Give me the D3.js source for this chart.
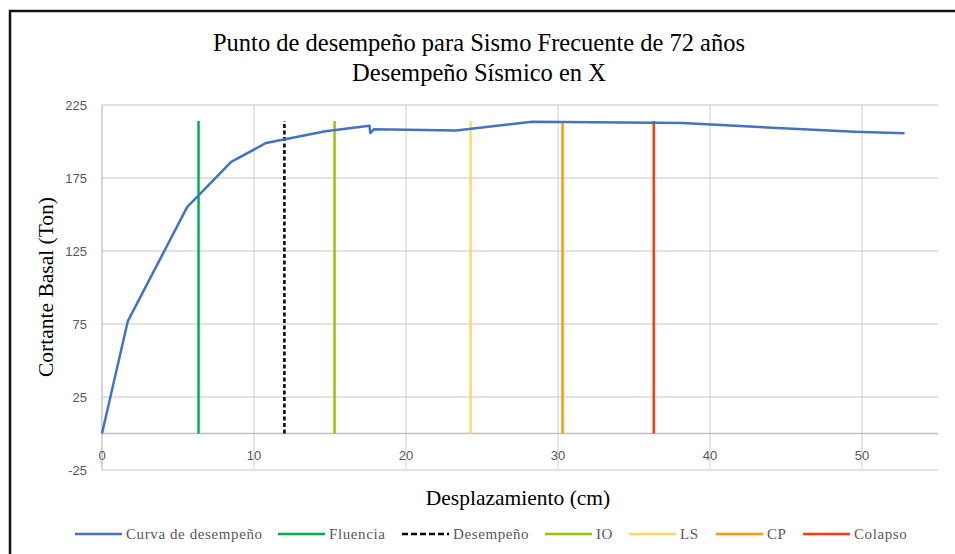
<!DOCTYPE html>
<html>
<head>
<meta charset="utf-8">
<script src="https://cdn.jsdelivr.net/npm/d3@7"></script>
<style>
  html, body { margin: 0; padding: 0; background: #fff; }
  svg { display: block; }
</style>
</head>
<body>
<svg id="chart" width="955" height="554"></svg>
<script>
// Pushover curve (displacement in cm, base shear in Ton)
const curveX = [0, 1.7, 5.6, 8.5, 10.8, 14.7, 17.6, 17.65, 17.9, 23.3, 28.3, 38.2, 49.5, 52.8];
const curveY = [0, 77, 155, 186, 199, 207, 210.8, 205.8, 208.4, 207.6, 213.5, 212.6, 206.6, 205.6];

// Performance levels drawn as vertical markers
const levelNames = ["Fluencia", "Desempeño", "IO", "LS", "CP", "Colapso"];
const levelX = [6.35, 12.0, 15.3, 24.25, 30.3, 36.3];
const levelTop = 214;
const levelColors = ["#00B050", "#000000", "#92C800", "#FFD966", "#FF9900", "#FF3B0F"];

const xTicks = [0, 10, 20, 30, 40, 50];
const yTicks = [-25, 25, 75, 125, 175, 225];

const titleLines = ["Punto de desempeño para Sismo Frecuente de 72 años", "Desempeño Sísmico en X"];

const svg = d3.select("#chart");
const serif = "'Liberation Serif', 'Times New Roman', serif";
const sans = "'Liberation Sans', Arial, sans-serif";

// Outer chart frame
svg.append("rect")
  .attr("x", 10).attr("y", 11).attr("width", 1000).attr("height", 600)
  .attr("fill", "none").attr("stroke", "#111").attr("stroke-width", 2.5);

const x = d3.scaleLinear().domain([0, 55]).range([102, 938]);
const y = d3.scaleLinear().domain([-25, 225]).range([470, 105]);

// Gridlines
const grid = svg.append("g");
grid.selectAll("line.h").data(yTicks).join("line")
  .attr("x1", x(0)).attr("x2", x(55))
  .attr("y1", d => y(d)).attr("y2", d => y(d))
  .attr("stroke", "#D9D9D9").attr("stroke-width", 1.3);
grid.selectAll("line.v").data(xTicks.filter(d => d > 0)).join("line")
  .attr("x1", d => x(d)).attr("x2", d => x(d))
  .attr("y1", y(225)).attr("y2", y(-25))
  .attr("stroke", "#D9D9D9").attr("stroke-width", 1.3);

// Axis lines (x axis crosses at 0)
svg.append("line")
  .attr("x1", x(0)).attr("x2", x(55)).attr("y1", y(0)).attr("y2", y(0))
  .attr("stroke", "#BFBFBF").attr("stroke-width", 1.5);
svg.append("line")
  .attr("x1", x(0)).attr("x2", x(0)).attr("y1", y(225)).attr("y2", y(-25))
  .attr("stroke", "#BFBFBF").attr("stroke-width", 1.3);

// Tick labels
svg.append("g").selectAll("text").data(yTicks).join("text")
  .attr("x", 87).attr("y", d => y(d))
  .attr("dy", "0.35em").attr("text-anchor", "end")
  .attr("font-family", sans).attr("font-size", 13).attr("fill", "#595959")
  .text(d => d);
svg.append("g").selectAll("text").data(xTicks).join("text")
  .attr("x", d => x(d)).attr("y", 455)
  .attr("dy", "0.35em").attr("text-anchor", "middle")
  .attr("font-family", sans).attr("font-size", 13).attr("fill", "#595959")
  .text(d => d);

// Performance level markers
svg.append("g").selectAll("line").data(levelX).join("line")
  .attr("x1", d => x(d)).attr("x2", d => x(d))
  .attr("y1", y(0)).attr("y2", y(levelTop))
  .attr("stroke", (d, i) => levelColors[i])
  .attr("stroke-width", 2.5)
  .attr("stroke-dasharray", (d, i) => levelNames[i] === "Desempeño" ? "4,2.5" : null);

// Capacity curve
const pts = curveX.map((d, i) => [d, curveY[i]]);
svg.append("path")
  .datum(pts)
  .attr("d", d3.line().x(d => x(d[0])).y(d => y(d[1])))
  .attr("fill", "none").attr("stroke", "#4472C4").attr("stroke-width", 2.5)
  .attr("stroke-linejoin", "round");

// Title
svg.append("g").selectAll("text").data(titleLines).join("text")
  .attr("x", 479).attr("y", (d, i) => 42 + i * 30)
  .attr("dy", "0.35em").attr("text-anchor", "middle")
  .attr("font-family", serif).attr("font-size", 24.5).attr("fill", "#000")
  .text(d => d);

// Axis titles
svg.append("text")
  .attr("transform", "translate(45,287) rotate(-90)")
  .attr("dy", "0.35em").attr("text-anchor", "middle")
  .attr("font-family", serif).attr("font-size", 21.5).attr("fill", "#000")
  .text("Cortante Basal (Ton)");
svg.append("text")
  .attr("x", 518).attr("y", 497)
  .attr("dy", "0.35em").attr("text-anchor", "middle")
  .attr("font-family", serif).attr("font-size", 21.5).attr("fill", "#000")
  .text("Desplazamiento (cm)");

// Legend
const legendNames = ["Curva de desempeño"].concat(levelNames);
const legendColors = ["#4472C4"].concat(levelColors);
const legendStart = [75, 278, 402, 545, 629, 716, 803];
const legend = svg.append("g").selectAll("g").data(legendNames).join("g")
  .attr("transform", (d, i) => `translate(${legendStart[i]},534)`);
legend.append("line")
  .attr("x1", 0).attr("x2", 47).attr("y1", 0).attr("y2", 0)
  .attr("stroke", (d, i) => legendColors[i]).attr("stroke-width", 2.5)
  .attr("stroke-dasharray", d => d === "Desempeño" ? "6,3" : null);
legend.append("text")
  .attr("x", 51).attr("y", 0).attr("dy", "0.35em")
  .attr("font-family", serif).attr("font-size", 15).attr("letter-spacing", 0.6)
  .attr("fill", "#595959")
  .text(d => d);
</script>
</body>
</html>
